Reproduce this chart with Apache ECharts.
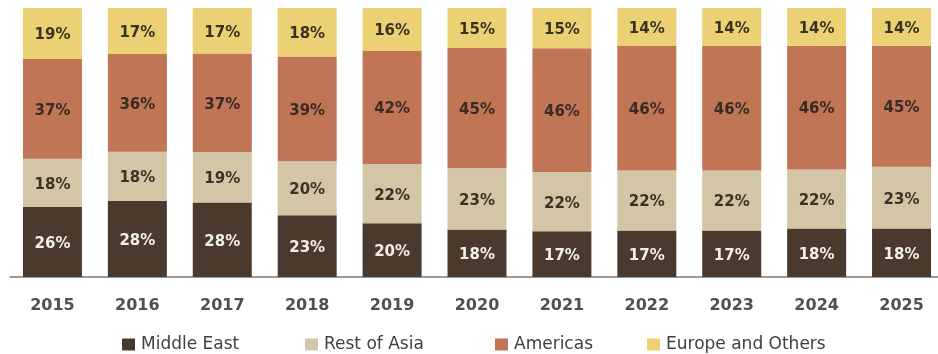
<!DOCTYPE html>
<html>
<head>
<meta charset="utf-8">
<script src="https://cdn.jsdelivr.net/npm/echarts@6/dist/echarts.min.js"></script>
<style>html,body{margin:0;padding:0;background:#fff;overflow:hidden;width:938px;height:354px}#c{width:944px;height:354px}</style>
</head>
<body>
<div id="c"></div>
<script>
const years = ['2015','2016','2017','2018','2019','2020','2021','2022','2023','2024','2025'];
const middleEast = [26, 28.3, 27.7, 23, 20, 17.7, 17, 17.3, 17.3, 18, 18];
const restOfAsia = [18, 18.3, 18.7, 20, 22, 22.7, 22, 22.3, 22.3, 22, 23];
const americas   = [37, 36.3, 36.7, 39, 42, 44.7, 46, 46.3, 46.3, 46, 45];
const europe     = [19, 17.1, 16.9, 18, 16, 14.9, 15, 14.1, 14.1, 14, 14];
const seriesNames = ['Middle East', 'Rest of Asia', 'Americas', 'Europe and Others'];

const colors = ['#4a3a2e', '#d2c6a6', '#bf7556', '#ecd174'];
const labelColors = ['#f2eee8', '#3a3226', '#3a2a20', '#3a3220'];
const font = '"DejaVu Sans", Verdana, sans-serif';
const dataSets = [middleEast, restOfAsia, americas, europe];

const chart = echarts.init(document.getElementById('c'));
const legendLefts = [117, 300, 490, 642];
chart.setOption({
  animation: false,
  grid: {left: 10, right: 0, top: 8, bottom: 77},
  xAxis: {
    type: 'category', data: years,
    axisLine: {lineStyle: {color: '#7a7a7a', width: 1.5}},
    axisTick: {show: false},
    axisLabel: {color: '#505050', fontFamily: font, fontSize: 16, fontWeight: 'bold', margin: 21}
  },
  yAxis: {type: 'value', min: 0, max: 100, show: false, splitLine: {show: false}},
  legend: seriesNames.map((n, i) => ({
    data: [n], left: legendLefts[i], top: 331,
    itemWidth: 13, itemHeight: 12, itemGap: 0,
    icon: 'rect',
    textStyle: {color: '#404040', fontFamily: font, fontSize: 17, padding: [0, 0, 0, 1]}
  })),
  series: seriesNames.map((n, i) => ({
    name: n, type: 'bar', stack: 'total', barWidth: 59,
    data: dataSets[i],
    itemStyle: {color: colors[i]},
    label: {
      show: true, position: 'inside', offset: [0, 2],
      formatter: p => Math.round(p.value) + '%',
      color: labelColors[i], fontFamily: font, fontSize: 15, fontWeight: 'bold'
    }
  }))
});
</script>
</body>
</html>
